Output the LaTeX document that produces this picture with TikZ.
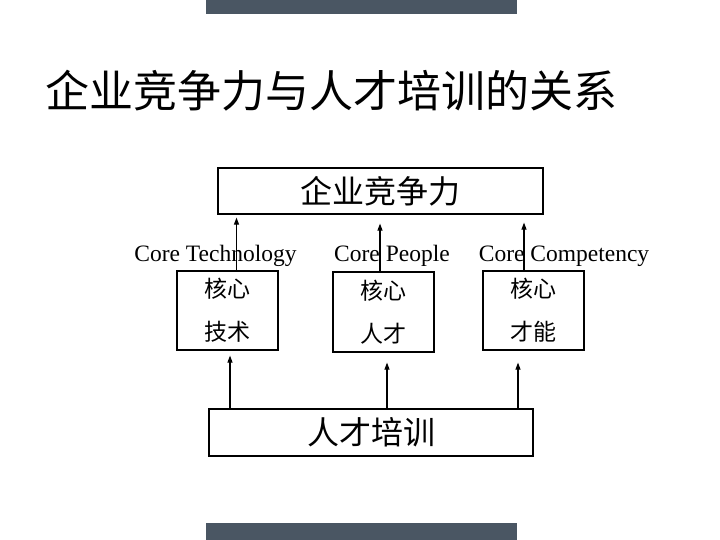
\documentclass[tikz,border=0pt]{standalone}
\usepackage{fontspec}
\setmainfont{Liberation Serif}
\newfontfamily\cjk{Noto Sans CJK SC}
\usetikzlibrary{arrows.meta, positioning}
\definecolor{bargray}{RGB}{74,86,99}

\begin{document}
\begin{tikzpicture}[x=1pt, y=-1pt]

  \tikzset{
    widenode/.style={
        shape=rectangle,
        draw=black,
        line width=1.2pt,
        minimum width=325pt,
        minimum height=46pt,
        inner sep=0pt,
        font=\cjk\fontsize{32}{36}\selectfont
      },
    corenode/.style={
        shape=rectangle,
        draw=black,
        line width=1.2pt,
        minimum width=101pt,
        minimum height=79pt,
        inner sep=0pt,
        align=center,
        font=\cjk\fontsize{23}{43}\selectfont
      },
    corelabel/.style={anchor=base, inner sep=0pt, font=\fontsize{23.5}{26}\selectfont},
    uparrow/.style={-{Triangle[length=7pt,width=5pt]}, line width=1.1pt}
  }

  \useasboundingbox (0,0) rectangle (720,540);
  \fill[bargray] (206,0) rectangle (517,14);
  \fill[bargray] (206,523) rectangle (517,540);

  \node[anchor=west, inner sep=0pt, font=\cjk\fontsize{44}{48}\selectfont] (title) at (45,91) {企业竞争力与人才培训的关系};

  \coordinate (m1) at (227.5,310.5);
  \coordinate (m2) at (383.5,312);
  \coordinate (m3) at (533.5,310.5);

  \node[widenode] (corp) at (380.5,191) {企业竞争力};
  \node[widenode, minimum width=324pt, minimum height=47pt] (train) at (371,432.5) {人才培训};

  \node[corenode] (tech) at (m1) {核心\\技术};
  \node[corenode, minimum height=80pt] (people) at (m2) {核心\\人才};
  \node[corenode] (comp) at (m3) {核心\\才能};

  \node[corelabel] (l1) at (215.5,261) {Core Technology};
  \node[corelabel] (l2) at (392,261) {Core People};
  \node[corelabel] (l3) at (564,261) {Core Competency};

  \coordinate (a1) at ([xshift=9pt]tech.north);
  \coordinate (a2) at ([xshift=-3.5pt]people.north);
  \coordinate (a3) at ([xshift=-9.5pt]comp.north);
  \draw[uparrow, shorten >=3pt] (a1) -- (a1 |- corp.south);
  \draw[uparrow, shorten >=9pt] (a2) -- (a2 |- corp.south);
  \draw[uparrow, shorten >=8pt] (a3) -- (a3 |- corp.south);

  \coordinate (b1) at ([xshift=-141pt]train.north);
  \coordinate (b2) at ([xshift=16pt]train.north);
  \coordinate (b3) at ([xshift=147pt]train.north);
  \draw[uparrow, shorten >=5pt] (b1) -- (b1 |- tech.south);
  \draw[uparrow, shorten >=10pt] (b2) -- (b2 |- people.south);
  \draw[uparrow, shorten >=12pt] (b3) -- (b3 |- comp.south);

\end{tikzpicture}
\end{document}
